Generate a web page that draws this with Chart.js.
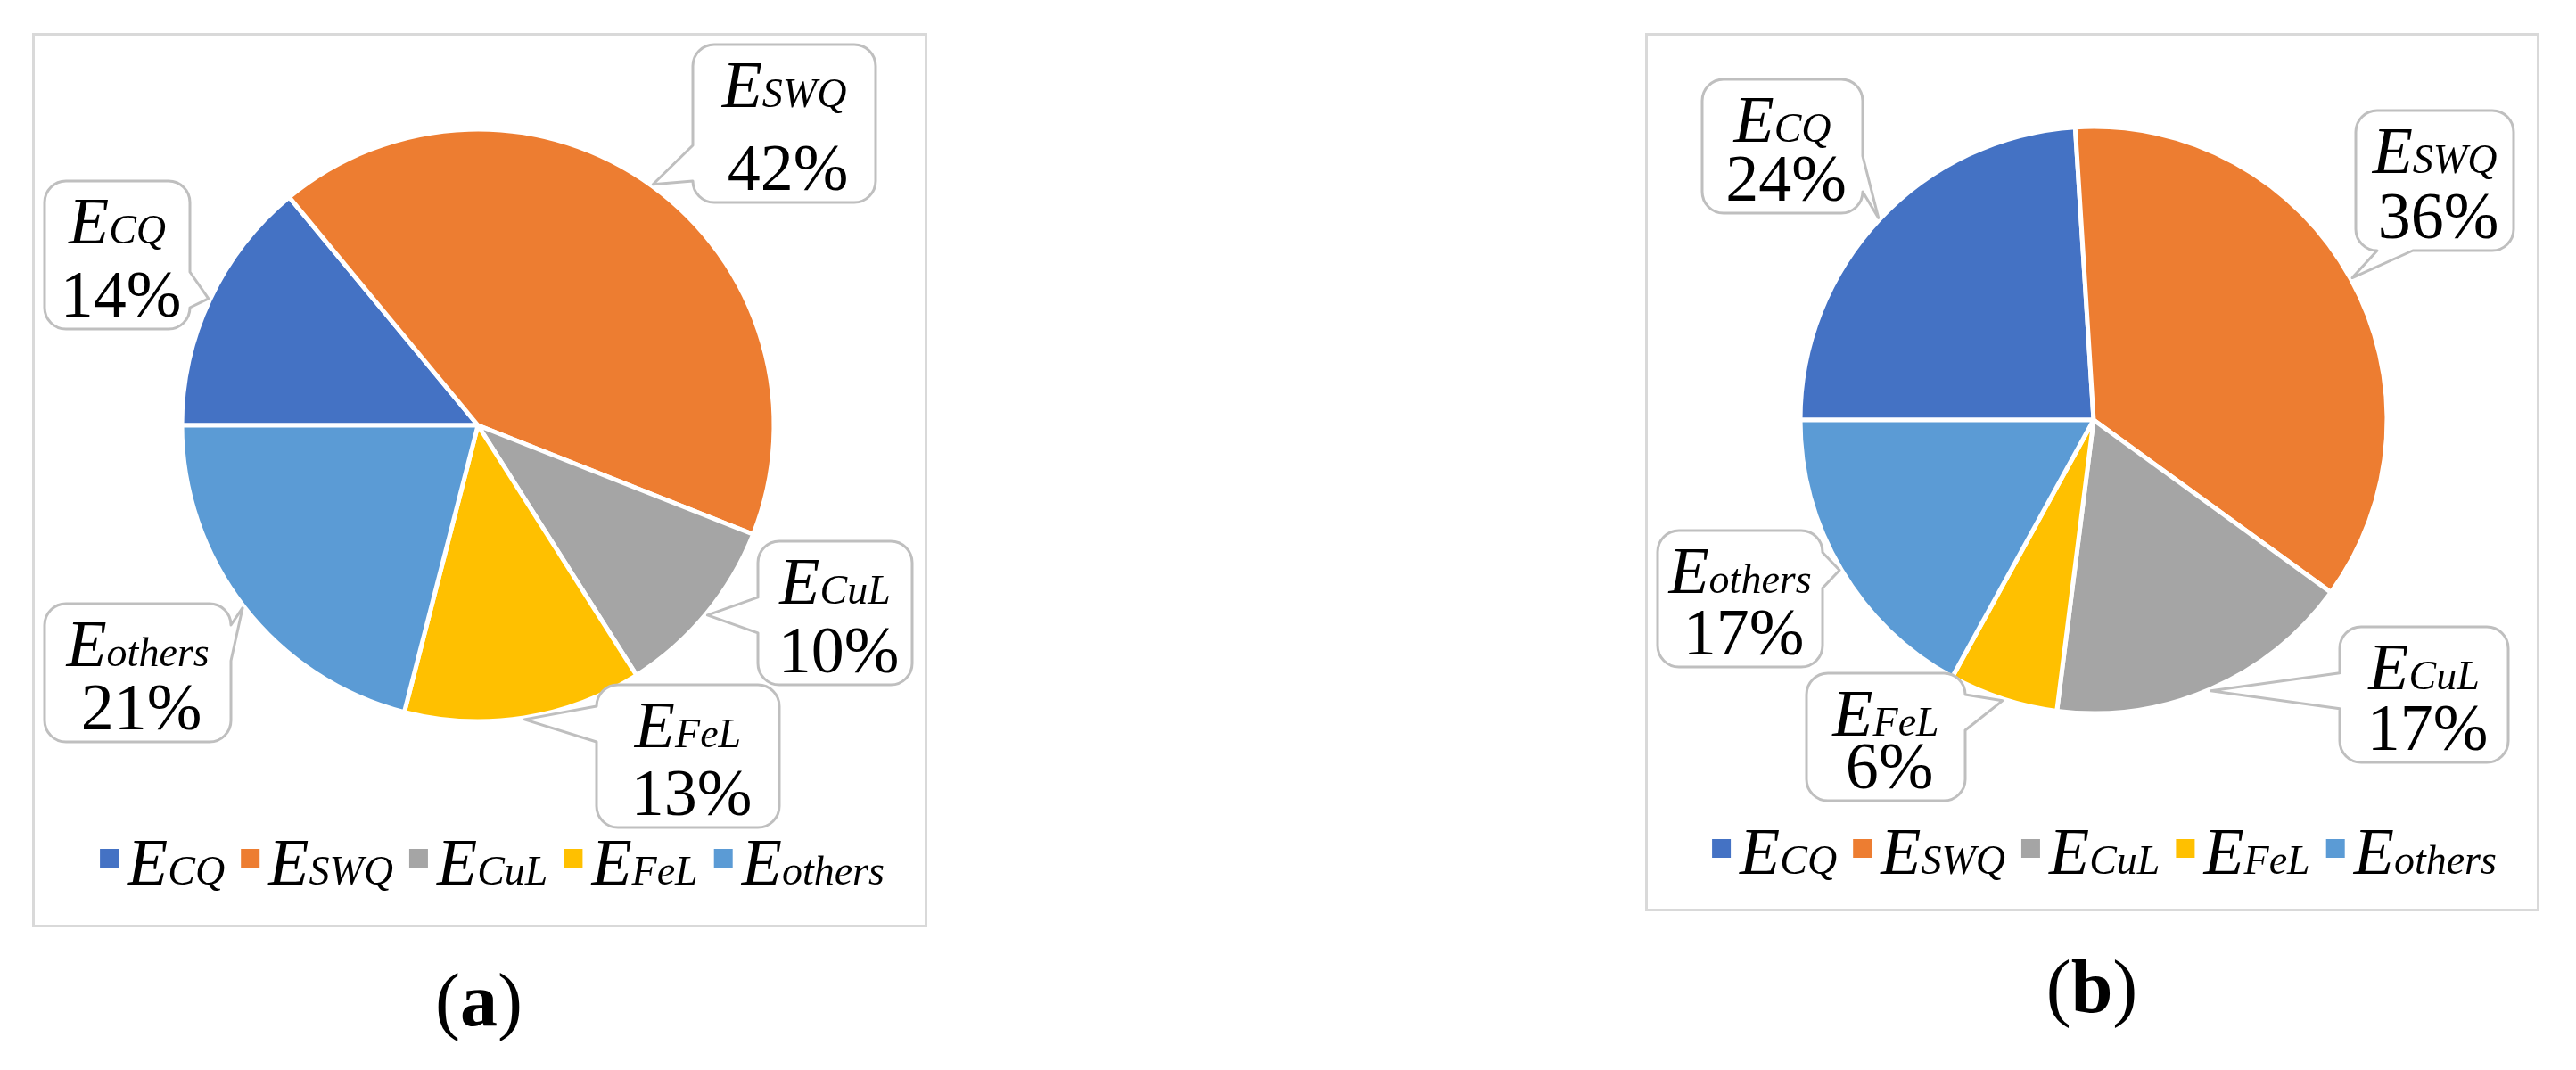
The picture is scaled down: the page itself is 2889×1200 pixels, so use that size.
<!DOCTYPE html>
<html>
<head>
<meta charset="utf-8">
<script src="https://cdn.jsdelivr.net/npm/chart.js@4.4.0/dist/chart.umd.min.js"></script>
<style>
  html, body { margin: 0; padding: 0; background: #fff; }
  body { width: 2889px; height: 1200px; position: relative; overflow: hidden;
         font-family: 'Liberation Serif', 'Times New Roman', serif; }
  canvas { position: absolute; }
  .cap { position: absolute; width: 400px; text-align: center; font-size: 84px; line-height: 84px; color: #000; }
</style>
</head>
<body>
<canvas id="chartA" width="1004" height="1003" style="left:36px;top:37px;width:1004px;height:1003px"></canvas>
<canvas id="chartB" width="1003" height="985" style="left:1845px;top:37px;width:1003px;height:985px"></canvas>
<div class="cap" style="left:337px;top:1080px">(<b>a</b>)</div>
<div class="cap" style="left:2146px;top:1065px">(<b>b</b>)</div>
<script>
// --- Data ---
const categories = ['E_CQ', 'E_SWQ', 'E_CuL', 'E_FeL', 'E_others'];
const shareA = [14, 42, 10, 13, 21];
const shareB = [24, 36, 17, 6, 17];
const sliceColors = ['#4472C4', '#ED7D31', '#A5A5A5', '#FFC000', '#5B9BD5'];

// --- Text helpers (E with a smaller italic subscript on the same baseline) ---
const FONT = "'Liberation Serif', 'Times New Roman', serif";
const MAIN_PX = 74;
const SUB_PX = 46;

function measureName(ctx, name) {
    const [main, sub] = name.split('_');
    ctx.font = `italic ${MAIN_PX}px ${FONT}`;
    const w1 = ctx.measureText(main).width;
    ctx.font = `italic ${SUB_PX}px ${FONT}`;
    return w1 + ctx.measureText(sub).width;
}

function drawName(ctx, name, x, baseline) {
    const [main, sub] = name.split('_');
    ctx.fillStyle = '#000';
    ctx.textBaseline = 'alphabetic';
    ctx.textAlign = 'left';
    ctx.font = `italic ${MAIN_PX}px ${FONT}`;
    ctx.fillText(main, x, baseline);
    const w1 = ctx.measureText(main).width;
    ctx.font = `italic ${SUB_PX}px ${FONT}`;
    ctx.fillText(sub, x + w1, baseline);
}

// --- Callout box with a wedge pointing at the slice ---
function calloutPath(ctx, b, tip, r, baseW) {
    const { x, y, w, h } = b;
    const out = {
        L: x - tip.x, R: tip.x - (x + w), T: y - tip.y, B: tip.y - (y + h)
    };
    const side = Object.keys(out).reduce((a, k) => out[k] > out[a] ? k : a, 'L');
    const clamp = (v, lo, hi) => Math.min(Math.max(v, lo), hi);
    const half = baseW / 2;

    ctx.beginPath();
    ctx.moveTo(x + r, y);
    if (side === 'T') {
        const c = clamp(tip.x, x + r + half, x + w - r - half);
        ctx.lineTo(c - half, y); ctx.lineTo(tip.x, tip.y); ctx.lineTo(c + half, y);
    }
    ctx.lineTo(x + w - r, y);
    ctx.arcTo(x + w, y, x + w, y + r, r);
    if (side === 'R') {
        const c = clamp(tip.y, y + r + half, y + h - r - half);
        ctx.lineTo(x + w, c - half); ctx.lineTo(tip.x, tip.y); ctx.lineTo(x + w, c + half);
    }
    ctx.lineTo(x + w, y + h - r);
    ctx.arcTo(x + w, y + h, x + w - r, y + h, r);
    if (side === 'B') {
        const c = clamp(tip.x, x + r + half, x + w - r - half);
        ctx.lineTo(c + half, y + h); ctx.lineTo(tip.x, tip.y); ctx.lineTo(c - half, y + h);
    }
    ctx.lineTo(x + r, y + h);
    ctx.arcTo(x, y + h, x, y + h - r, r);
    if (side === 'L') {
        const c = clamp(tip.y, y + r + half, y + h - r - half);
        ctx.lineTo(x, c + half); ctx.lineTo(tip.x, tip.y); ctx.lineTo(x, c - half);
    }
    ctx.lineTo(x, y + r);
    ctx.arcTo(x, y, x + r, y, r);
    ctx.closePath();
}

const framePlugin = {
    id: 'frame',
    beforeDraw(chart) {
        const ctx = chart.ctx;
        ctx.save();
        ctx.fillStyle = '#fff';
        ctx.fillRect(0, 0, chart.width, chart.height);
        ctx.strokeStyle = '#D9D9D9';
        ctx.lineWidth = 3;
        ctx.strokeRect(1.5, 1.5, chart.width - 3, chart.height - 3);
        ctx.restore();
    }
};

const calloutPlugin = {
    id: 'callouts',
    afterDatasetsDraw(chart, args, opts) {
        const ctx = chart.ctx;
        const meta = chart.getDatasetMeta(0);
        const values = chart.data.datasets[0].data;
        const total = values.reduce((a, b) => a + b, 0);
        ctx.save();
        meta.data.forEach((arc, i) => {
            const box = opts.boxes[i];
            const mid = (arc.startAngle + arc.endAngle) / 2;
            const rr = arc.outerRadius + 2;
            const tip = { x: arc.x + Math.cos(mid) * rr, y: arc.y + Math.sin(mid) * rr };

            calloutPath(ctx, box, tip, 24, 40);
            ctx.fillStyle = '#fff';
            ctx.fill();
            ctx.strokeStyle = '#BFBFBF';
            ctx.lineWidth = 3;
            ctx.lineJoin = 'round';
            ctx.stroke();

            const cx = box.x + box.w / 2;
            const nameW = measureName(ctx, chart.data.labels[i]);
            drawName(ctx, chart.data.labels[i], cx - nameW / 2, box.y + 70);

            ctx.font = `${MAIN_PX}px ${FONT}`;
            ctx.textAlign = 'center';
            ctx.fillStyle = '#000';
            ctx.fillText(Math.round(values[i] / total * 100) + '%', cx + 4, box.y + box.h - 14);
        });
        ctx.restore();
    }
};

const legendPlugin = {
    id: 'pieLegend',
    afterDraw(chart, args, opts) {
        const ctx = chart.ctx;
        const labels = chart.data.labels;
        const colors = chart.data.datasets[0].backgroundColor;
        ctx.save();
        const itemW = labels.map(l => opts.square + opts.textGap + measureName(ctx, l));
        const total = itemW.reduce((a, b) => a + b, 0) + opts.itemGap * (labels.length - 1);
        let x = opts.centerX - total / 2;
        labels.forEach((l, i) => {
            ctx.fillStyle = colors[i];
            ctx.fillRect(x, opts.squareTop, opts.square, opts.square);
            drawName(ctx, l, x + opts.square + opts.textGap, opts.baseline);
            x += itemW[i] + opts.itemGap;
        });
        ctx.restore();
    }
};

function makePie(canvasId, values, cfg) {
    return new Chart(document.getElementById(canvasId), {
        type: 'pie',
        data: {
            labels: categories,
            datasets: [{
                data: values,
                backgroundColor: sliceColors,
                borderColor: '#ffffff',
                borderWidth: 5,
                hoverOffset: 0,
                rotation: 270,
                radius: cfg.radius
            }]
        },
        options: {
            responsive: false,
            animation: false,
            events: [],
            rotation: 270,
            radius: cfg.radius,
            layout: { padding: cfg.padding },
            plugins: {
                legend: { display: false },
                tooltip: { enabled: false },
                callouts: { boxes: cfg.boxes },
                pieLegend: cfg.legend
            }
        },
        plugins: [framePlugin, calloutPlugin, legendPlugin]
    });
}

// (a)
makePie('chartA', shareA, {
    radius: 332,
    padding: { left: 170, right: 174, top: 110, bottom: 233 },
    boxes: [
        { x: 14, y: 166, w: 163, h: 166 },
        { x: 741, y: 13, w: 205, h: 177 },
        { x: 814, y: 570, w: 173, h: 161 },
        { x: 633, y: 731, w: 205, h: 160 },
        { x: 14, y: 640, w: 209, h: 155 }
    ],
    legend: { centerX: 516, squareTop: 915, square: 21, textGap: 10, itemGap: 18, baseline: 955 }
});

// (b)
makePie('chartB', shareB, {
    radius: 329,
    padding: { left: 176, right: 173, top: 107, bottom: 224 },
    boxes: [
        { x: 64, y: 52, w: 180, h: 150 },
        { x: 797, y: 87, w: 177, h: 157 },
        { x: 779, y: 666, w: 189, h: 152 },
        { x: 181, y: 718, w: 178, h: 143 },
        { x: 14, y: 558, w: 185, h: 153 }
    ],
    legend: { centerX: 515, squareTop: 904, square: 21, textGap: 10, itemGap: 18, baseline: 943 }
});
</script>
</body>
</html>
